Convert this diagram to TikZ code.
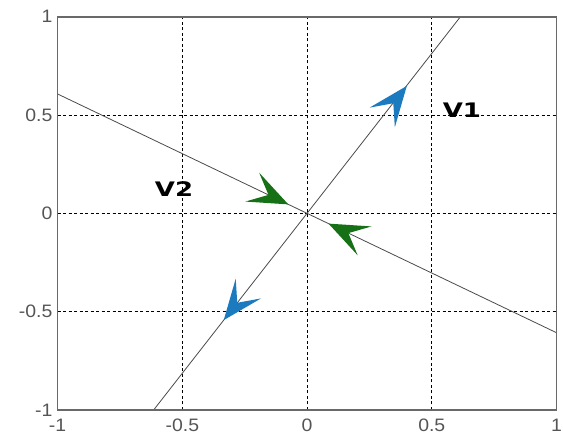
\documentclass[tikz,border=0pt]{standalone}
\usepackage{fontspec}
\setmainfont{Liberation Sans}
\newfontfamily\labfont{DejaVu Sans}
\definecolor{arrowblue}{RGB}{28,122,190}
\definecolor{arrowgreen}{RGB}{22,112,22}
\definecolor{linegray}{RGB}{75,75,75}
\definecolor{boxgray}{RGB}{105,105,105}
\definecolor{ticklabel}{RGB}{85,85,85}
\begin{document}
\begin{tikzpicture}[x=249.45pt, y=196.65pt,
  gridline/.style={black, line width=0.8pt, dash pattern=on 3pt off 2.5pt},
  eigline/.style={linegray, line width=0.8pt},
  frame/.style={boxgray, line width=1.8pt},
  ticklab/.style={text=ticklabel, font=\fontsize{18}{18}\selectfont, inner sep=0pt, xscale=1.08},
  veclab/.style={font=\labfont\bfseries\fontsize{20}{20}\selectfont, xscale=1.3, inner sep=0pt},
  ]
\useasboundingbox (-307.05pt,-221.65pt) rectangle (255.95pt,213.35pt);
\fill[white] (-307.05pt,-221.65pt) rectangle (255.95pt,213.35pt);

% grid
\foreach \v in {-0.5,0,0.5} {
  \draw[gridline] (\v,-1) -- (\v,1);
  \draw[gridline] (-1,\v) -- (1,\v);
}

% eigen-direction lines
\coordinate (v1a) at (-0.615,-1);
\coordinate (v1b) at (0.615,1);
\coordinate (v2a) at (-1,0.607);
\coordinate (v2b) at (1,-0.607);
\draw[eigline] (v1a) -- (v1b);
\draw[eigline] (v2a) -- (v2b);

% arrow heads
\newcommand{\myhead}[3]{%
  \begin{scope}[shift={#1}, rotate=#2, x=1pt, y=1pt]
    \fill[#3] (0,0) -- (-40,16) -- (-22,0) -- (-40,-16) -- cycle;
  \end{scope}}
\myhead{(0.40,0.648)}{52.04}{arrowblue}
\myhead{(-0.334,-0.543)}{232.04}{arrowblue}
\myhead{(-0.075,0.0455)}{-25.57}{arrowgreen}
\myhead{(0.086,-0.0522)}{154.43}{arrowgreen}

% frame
\draw[frame] (-1,-1) rectangle (1,1);

% labels
\node[veclab] (lv1) at (0.621,0.526) {V1};
\node[veclab] (lv2) at (-0.533,0.125) {V2};

% tick labels
\foreach \v/\t in {-1/-1,-0.5/-0.5,0/0,0.5/0.5,1/1} {
  \node[ticklab, anchor=east] (yt\t) at ([xshift=-5pt]-1,\v) {\t};
  \node[ticklab] (xt\t) at ([yshift=-15pt]\v,-1) {\t};
}
\end{tikzpicture}
\end{document}
